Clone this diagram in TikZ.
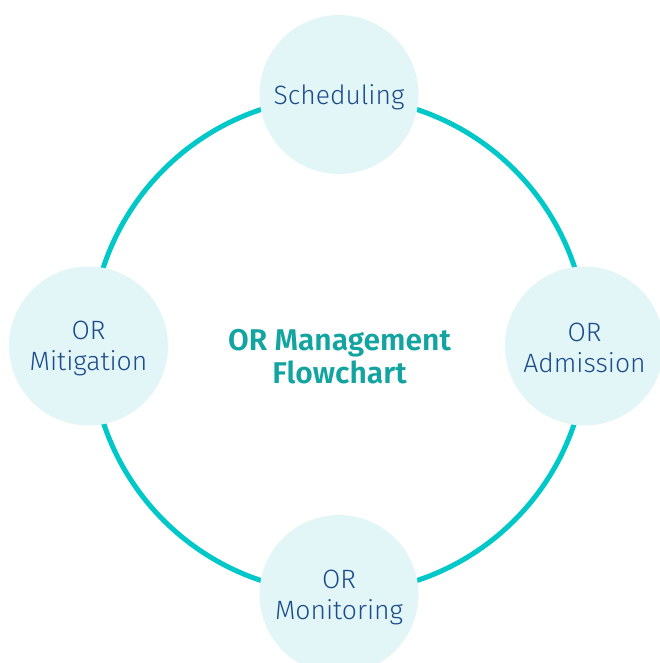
\documentclass[tikz,border=0pt]{standalone}
\usepackage{fontspec}
\IfFontExistsTF{Fira Sans Light}{\setmainfont{Fira Sans Light}[BoldFont=Fira Sans SemiBold]}{\setmainfont{Fira Sans}}
\definecolor{ring}{HTML}{00C8C8}
\definecolor{bubble}{HTML}{E2F6F8}
\definecolor{navy}{HTML}{1C4C8A}
\definecolor{teal}{HTML}{12A4A0}
\tikzset{
  stage/.style={circle, fill=bubble, minimum size=159pt, inner sep=0pt},
  stagetext/.style={align=center, inner sep=0pt, text=navy, font=\fontsize{26.5}{31}\selectfont},
  titletext/.style={align=center, text=teal, font=\bfseries\fontsize{30}{33}\selectfont}
}
\begin{document}
\begin{tikzpicture}[x=1pt,y=-1pt]
\useasboundingbox (0,0) rectangle (660,663);
\clip (0,0) rectangle (660,663);
\coordinate (c) at (339,345);
\draw[ring, line width=5pt] (c) circle[radius=248];
\node[stage] (sched) at (339,94.5) {};
\node[stage] (adm) at (584.5,346) {};
\node[stage] (mon) at (339,594.5) {};
\node[stage] (mit) at (88.5,346) {};
\node[stagetext] (schedT) at ([yshift=-3pt]sched.center) {Scheduling};
\node[stagetext] (admT) at ([yshift=-2pt]adm.center) {OR\\Admission};
\node[stagetext] (monT) at ([yshift=-3pt]mon.center) {OR\\Monitoring};
\node[stagetext] (mitT) at ([yshift=-2pt]mit.center) {OR\\Mitigation};
\node[titletext] (title) at (339.5,357) {OR Management\\Flowchart};
\end{tikzpicture}
\end{document}
